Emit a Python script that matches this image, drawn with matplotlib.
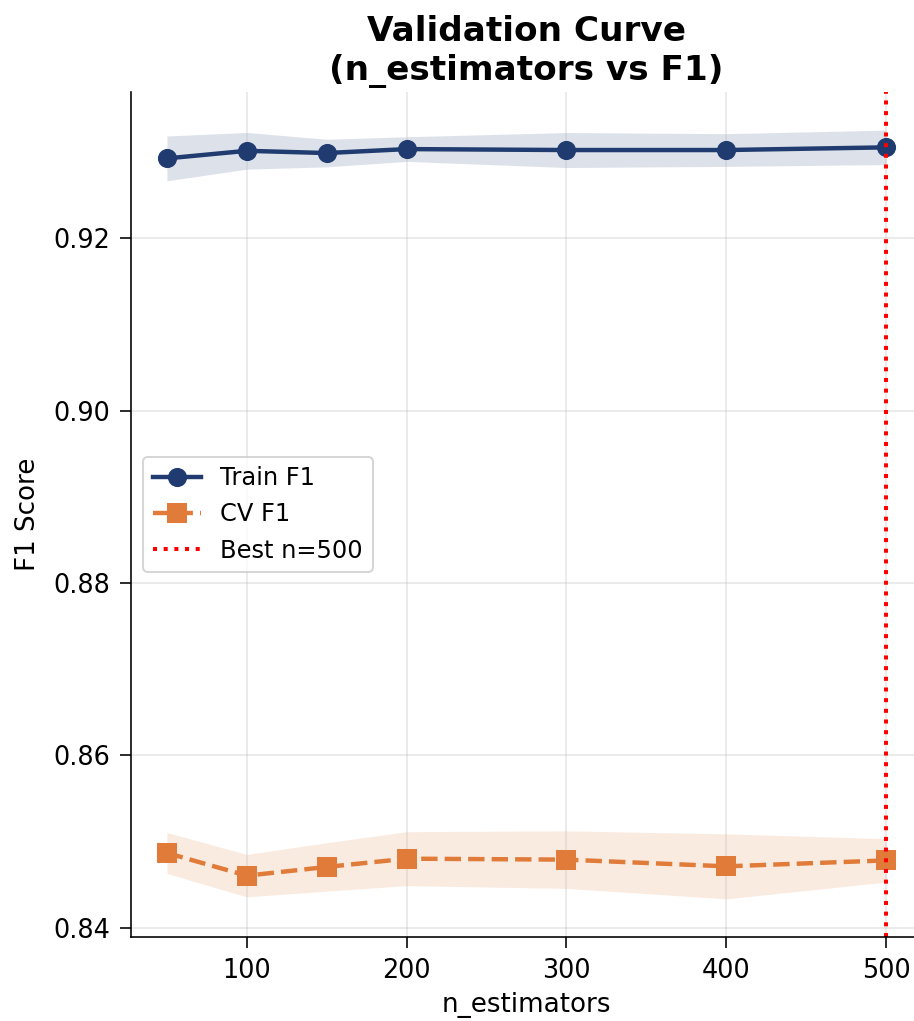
import numpy as np
import matplotlib
matplotlib.use("Agg")
import matplotlib.pyplot as plt

# values
n_estimators = [50, 100, 150, 200, 300, 400, 500]
train_mean = [0.92925, 0.93013, 0.92987, 0.93033, 0.93022, 0.93022, 0.93053]
train_std = [0.0026, 0.00213, 0.0016, 0.00143, 0.00203, 0.0019, 0.0020]
cv_mean = [0.84867, 0.84604, 0.84705, 0.84801, 0.84790, 0.84712, 0.84781]
cv_std = [0.00238, 0.00246, 0.00281, 0.00313, 0.00334, 0.00377, 0.00252]
best_n = 500

train_color = "#1f3b70"
cv_color = "#e07b39"

x = np.array(n_estimators)
tr = np.array(train_mean)
trs = np.array(train_std)
cv = np.array(cv_mean)
cvs = np.array(cv_std)

fig = plt.figure(figsize=(914 / 145, 1021 / 145), dpi=145)
ax = fig.add_axes([0.1433, 0.082, 0.8655, 0.8282])

ax.plot(x, tr, "o-", color=train_color, lw=2.2, markersize=8.5, label="Train F1")
ax.fill_between(x, tr - trs, tr + trs, color=train_color, alpha=0.15, lw=0)
ax.plot(x, cv, "s--", color=cv_color, lw=2.2, markersize=8.5, label="CV F1")
ax.fill_between(x, cv - cvs, cv + cvs, color=cv_color, alpha=0.15, lw=0)
ax.axvline(best_n, color="red", linestyle=":", lw=2, label=f"Best n={best_n}")

ax.set_xlabel("n_estimators", fontsize=13)
ax.set_ylabel("F1 Score", fontsize=13, labelpad=6)
ax.set_title("Validation Curve\n(n_estimators vs F1)", fontsize=17, fontweight="bold")
ax.tick_params(labelsize=12.7, length=5.5, pad=5)
ax.grid(True, alpha=0.3)
ax.spines["top"].set_visible(False)
ax.spines["right"].set_visible(False)
ax.legend(loc="center left", fontsize=12)

fig.savefig("out.png", dpi=145)
